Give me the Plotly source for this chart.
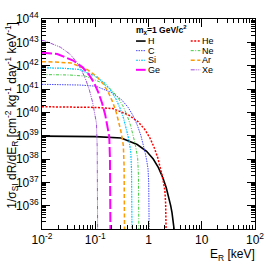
import numpy as np
import plotly.graph_objects as go

# ---- data (energies in keV, log10 of rate) ----
H_E = [0.01, 0.1, 0.307, 0.614, 0.921, 1.228, 1.535, 1.842, 2.149, 2.456, 2.61, 2.763, 2.917, 3.07, 3.1]
H_logR = [38.98, 38.96, 38.90, 38.62, 38.33, 38.00, 37.63, 37.22, 36.78, 36.28, 36.00, 35.70, 35.36, 35.01, 34.8]

He_E = [0.01, 0.1, 0.214, 0.428, 0.642, 0.856, 1.07, 1.284, 1.498, 1.712, 1.819, 1.926, 2.033, 2.097, 2.13, 2.145]
He_logR = [40.24, 40.21, 40.16, 39.88, 39.59, 39.26, 38.89, 38.48, 38.04, 37.54, 37.26, 36.96, 36.62, 36.1, 35.4, 34.8]

C_E = [0.01, 0.0515, 0.103, 0.206, 0.309, 0.412, 0.515, 0.618, 0.721, 0.824, 0.876, 0.927, 0.979, 1.009, 1.025, 1.03]
C_logR = [41.20, 41.17, 41.12, 40.84, 40.55, 40.22, 39.85, 39.44, 39.00, 38.50, 38.22, 37.92, 37.58, 37.0, 36.0, 34.8]

Ne_E = [0.01, 0.033, 0.066, 0.132, 0.198, 0.264, 0.33, 0.396, 0.462, 0.528, 0.561, 0.594, 0.627, 0.647, 0.657, 0.66]
Ne_logR = [41.62, 41.60, 41.55, 41.27, 40.98, 40.65, 40.28, 39.87, 39.43, 38.93, 38.65, 38.35, 38.01, 37.3, 36.2, 34.8]

Si_E = [0.01, 0.0245, 0.049, 0.098, 0.147, 0.196, 0.245, 0.294, 0.343, 0.392, 0.4165, 0.441, 0.4655, 0.48, 0.4875, 0.49]
Si_logR = [41.91, 41.89, 41.84, 41.56, 41.27, 40.94, 40.57, 40.16, 39.72, 39.22, 38.94, 38.64, 38.30, 37.5, 36.3, 34.8]

Ar_E = [0.01, 0.01775, 0.0355, 0.071, 0.1065, 0.142, 0.1775, 0.213, 0.2485, 0.284, 0.30175, 0.3195, 0.33725, 0.348, 0.3532, 0.355]
Ar_logR = [42.17, 42.16, 42.11, 41.83, 41.54, 41.21, 40.84, 40.43, 39.99, 39.49, 39.21, 38.91, 38.57, 37.7, 36.4, 34.8]

Ge_E = [0.01, 0.0193, 0.0386, 0.0579, 0.0772, 0.0965, 0.1158, 0.1351, 0.1544, 0.16405, 0.1737, 0.18335, 0.189, 0.192, 0.193]
Ge_logR = [42.55, 42.50, 42.22, 41.93, 41.60, 41.23, 40.82, 40.38, 39.88, 39.60, 39.30, 38.96, 38.0, 36.5, 34.8]

Xe_E = [0.01, 0.0111, 0.0222, 0.0333, 0.0444, 0.0555, 0.0666, 0.0777, 0.0888, 0.09435, 0.0999, 0.10545, 0.1088, 0.11045, 0.111]
Xe_logR = [43.08, 43.07, 42.79, 42.50, 42.17, 41.80, 41.39, 40.95, 40.45, 40.17, 39.87, 39.53, 38.5, 36.8, 34.8]

x_tick_vals = [0.01, 0.1, 1, 10, 100]
x_tick_text = ["10<sup>-2</sup>", "10<sup>-1</sup>", "1", "10", "10<sup>2</sup>"]
y_tick_exps = [36, 37, 38, 39, 40, 41, 42, 43, 44]

FONT = "Liberation Sans, Arial, Helvetica, sans-serif"

series = [
    # name, E, logR, color, width, dash, legend column, legend row
    ("H", H_E, H_logR, "#000000", 1.6, "solid", 0, 0),
    ("He", He_E, He_logR, "#ff0000", 1.5, "2px,1.5px", 1, 0),
    ("C", C_E, C_logR, "#4a4aff", 1.0, "1.5px,1px", 0, 1),
    ("Ne", Ne_E, Ne_logR, "#44cc44", 1.0, "3px,1.5px,1px,1.5px", 1, 1),
    ("Si", Si_E, Si_logR, "#00c8ff", 1.2, "2px,1px,1px,1px", 0, 2),
    ("Ar", Ar_E, Ar_logR, "#ff9900", 1.5, "4px,2.5px", 1, 2),
    ("Ge", Ge_E, Ge_logR, "#ff00ff", 2.0, "10px,3px", 0, 3),
    ("Xe", Xe_E, Xe_logR, "#a050d8", 1.0, "4px,1px,1px,1px,1px,1px", 1, 3),
]

fig = go.Figure()
for name, E, lr, col, w, dash, _, _ in series:
    fig.add_trace(go.Scatter(
        x=E, y=np.power(10.0, np.array(lr)), mode="lines", name=name,
        line=dict(color=col, width=w, dash=dash), showlegend=False,
    ))

L, R, T, B = 42, 10, 10, 35
W, Hh = 274, 264
pw, ph = W - L - R, Hh - T - B

def px(x):
    return (x - L) / pw

def py(y):
    return (Hh - B - y) / ph

shapes = []
annotations = []
# legend header
annotations.append(dict(
    x=px(139), y=py(20.5), xref="paper", yref="paper", xanchor="left", yanchor="middle",
    text="<b>m<sub>χ</sub>=1 GeV/c<sup>2</sup></b>", showarrow=False, borderpad=0,
    font=dict(family=FONT, size=8.5, color="black")))
col_x = [140, 197]
row_y = [33, 43, 53, 63]
for name, E, lr, col, w, dash, c, r in series:
    x0 = col_x[c]
    yy = row_y[r]
    shapes.append(dict(type="line", xref="paper", yref="paper",
                       x0=px(x0), x1=px(x0 + 10), y0=py(yy), y1=py(yy),
                       line=dict(color=col, width=w, dash=dash)))
    annotations.append(dict(
        x=px(x0 + 11), y=py(yy), xref="paper", yref="paper", xanchor="left", yanchor="middle",
        text=name, showarrow=False, borderpad=0,
        font=dict(family=FONT, size=9, color="black")))

# axis titles
annotations.append(dict(
    x=px(11), y=py(11), xref="paper", yref="paper", xanchor="center", yanchor="top",
    textangle=-90, showarrow=False,
    text="1/σ<sub>SI</sub> dR/dE<sub>R</sub> [cm<sup>-2</sup> kg<sup>-1</sup> day<sup>-1</sup> keV<sup>-1</sup>]",
    font=dict(family=FONT, size=12, color="black")))
annotations.append(dict(
    x=px(265), y=py(265), xref="paper", yref="paper", xanchor="right", yanchor="bottom",
    showarrow=False, text="E<sub>R</sub> [keV]", borderpad=0,
    font=dict(family=FONT, size=12, color="black")))

fig.update_layout(
    width=W, height=Hh,
    margin=dict(l=L, r=R, t=T, b=B, pad=0),
    paper_bgcolor="white", plot_bgcolor="white",
    font=dict(family=FONT, size=12, color="black"),
    shapes=shapes, annotations=annotations,
)
fig.update_xaxes(
    type="log", range=[-2, 2], showgrid=False, zeroline=False,
    showline=True, linecolor="black", linewidth=1, mirror="allticks",
    ticks="inside", ticklen=8, tickcolor="black",
    tickvals=x_tick_vals, ticktext=x_tick_text,
    tickfont=dict(family=FONT, size=12),
    minor=dict(ticks="inside", ticklen=4, tickcolor="black", dtick="D1", showgrid=False),
)
fig.update_yaxes(
    type="log", range=[35, 44], showgrid=False, zeroline=False,
    showline=True, linecolor="black", linewidth=1, mirror="allticks",
    ticks="inside", ticklen=8, tickcolor="black",
    tickvals=[10.0 ** e for e in y_tick_exps],
    ticktext=["10<sup>%d</sup>" % e for e in y_tick_exps],
    tickfont=dict(family=FONT, size=12),
    minor=dict(ticks="inside", ticklen=4, tickcolor="black", dtick="D1", showgrid=False),
)

fig.write_html("out.html", config={"displayModeBar": False},
               post_script="document.body.style.margin='0px';")
